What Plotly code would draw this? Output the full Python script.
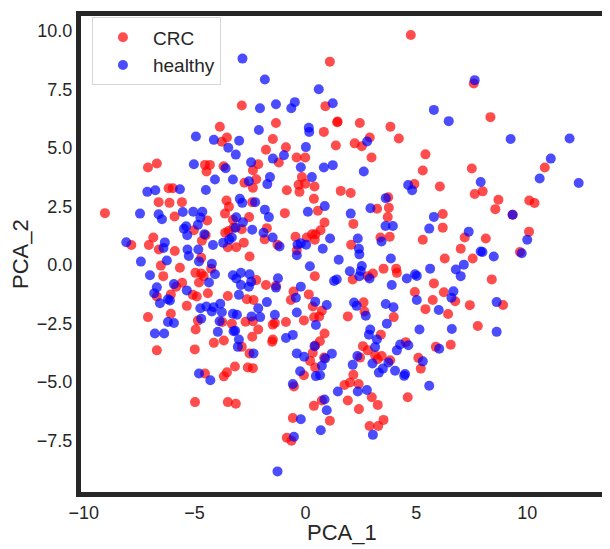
import plotly.graph_objects as go

# PCA projection, CRC samples
crc_x = [-2.87, -3.86, -3.77, -3.54, -7.10, -6.70, -4.53, -4.31, -4.46, -3.69, -2.37, -2.75, -6.17, -5.98,
         -2.37, -6.62, -6.13, -5.57, -3.56, -3.45, -2.40, -9.04, -5.90, -4.43, -3.63, -3.27, -2.54, -5.03,
         -3.24, -2.87, -3.62, -3.47, -4.50, -6.86, -7.85, -7.06, -6.61, -5.89, -3.50, -3.12, -2.78, -4.67,
         -4.70, -2.52, -6.52, -5.66, -4.25, -6.41, -4.96, -4.70, -4.59, -4.80, -6.70, -5.83, -5.56, -6.07,
         -5.08, -4.90, -4.40, -3.50, -2.64, -2.34, -5.35, -6.07, -7.10, -4.85, -3.75, -3.32, -2.70, -2.37,
         -4.95, -2.40, -4.13, -3.68, -2.87, -6.70, -4.99, -2.52, -3.18, -2.60, -2.37, -4.53, -3.68, -3.54,
         -4.98, -3.50, -3.14,
         4.75, 1.10, 0.90, -1.33, 0.83, 1.43, 1.45, 2.45, 3.83, 4.21, 2.90, 2.54, 2.22, 1.37, 2.98, -1.47,
         -1.78, -0.88, -1.20, -0.40, -0.01, 5.41, 5.29, -2.13, -2.22, -0.16, -0.31, -0.01, 0.41, -0.27,
         -0.84, 1.59, 2.04, 0.38, 4.91, -0.93, 0.56, 2.16, 3.23, 3.73, 3.76, 3.71, 3.80, 3.38, 0.86, 0.68,
         0.45, 0.30, 0.06, 0.42, -0.45, -1.74, -1.84, -1.26, 2.06, 5.29,
         -0.39, 0.42, 2.13, 2.81, 3.04, 3.52, 4.09, 4.12, 4.93, 5.41, 5.09, 5.20, -1.78, -2.22, -1.33,
         -2.13, -1.47, -1.38, -0.88, -1.50, -1.47, -0.54, -0.66, 0.15, -0.07, 0.33, 0.74, 0.62, 0.39, 0.86,
         0.65, 0.44, 0.33, 0.21, 0.84, 0.44, -0.07, -0.52, 1.91, 2.62, 2.66, 3.98, 3.40, 2.59, 2.81, 2.46,
         3.14, 3.44, 3.25, 3.82, 4.52, 2.16, 1.76, 2.01, 2.40, 2.99, 1.91, 3.26, 2.41, 4.61, 0.74, 0.38,
         1.10, -0.57, 3.52, 3.28, 2.89, -0.84, -0.63,
         7.59, 8.34, 10.79, 7.50, 6.06, 7.63, 7.99, 8.70, 8.56, 10.09, 10.33, 9.34, 6.19, 6.19, 7.18, 8.13,
         10.08, 7.00,
         9.67, 6.28, 7.54, 8.40, 5.79, 6.24, 6.75, 5.74, 6.43, 7.41, 8.91, 7.77, 5.88, 6.55]
crc_y = [6.81, 5.90, 5.26, 5.44, 4.16, 4.33, 4.27, 4.27, 3.99, 4.21, 4.04, 3.51, 3.27, 3.27,
         3.29, 2.68, 2.65, 2.68, 2.75, 2.48, 2.68, 2.21, 2.07, 1.90, 2.19, 1.93, 2.04, 1.48,
         1.59, 1.52, 1.37, 1.45, 1.27, 1.17, 0.85, 0.85, 0.66, 0.59, 0.75, 0.75, 0.95, 1.03,
         0.31, 0.36, -0.03, -0.12, -0.16, -0.48, -0.34, -0.37, -0.48, -0.75, -1.35, -0.93, -0.76, -1.26,
         -1.28, -1.35, -1.21, -1.33, -1.47, -1.50, -1.75, -2.09, -2.23, -2.38, -2.44, -2.51, -2.43, -2.41,
         -2.76, -3.07, -3.33, -3.23, -3.50, -3.65, -3.61, -3.78, -4.34, -4.38, -4.41, -4.64, -4.76, -4.59,
         -5.86, -5.86, -5.93,
         9.82, 8.68, 6.78, 6.06, 5.68, 6.09, 6.12, 6.06, 5.90, 5.40, 5.44, 5.07, 5.19, 5.10, 4.59, 5.38,
         4.92, 5.02, 4.37, 4.59, 4.59, 4.72, 4.03, 4.30, 3.66, 3.75, 3.42, 3.47, 3.35, 3.12,
         3.19, 3.16, 3.07, 2.82, 3.45, 2.21, 2.31, 1.75, 2.40, 2.89, 2.44, 2.04, 1.20, 1.17, 1.81, 1.48,
         1.31, 1.31, 1.17, 1.07, 1.20, 1.57, 1.09, 0.86, 0.86, 1.07,
         0.62, -0.48, -0.62, -0.48, -0.37, -0.16, -0.16, -0.34, -1.16, -1.89, -3.97, -4.43, -0.86, -0.65, -0.89,
         -2.76, -2.55, -2.48, -2.44, -3.28, -3.19, -1.14, -1.50, -1.26, -2.37, -1.78, -1.96, -2.20, -2.24, -2.93,
         -3.26, -3.44, -3.75, -4.10, -3.96, -4.38, -4.71, -5.19, -2.20, -1.60, -1.99, -2.23, -2.98, -3.47, -3.65, -3.96,
         -3.86, -3.89, -4.03, -4.07, -3.30, -4.69, -5.13, -5.02, -5.09, -5.65, -5.79, -5.98, -6.16, -5.65, -5.79, -6.02,
         -6.66, -6.54, -6.62, -6.88, -6.88, -7.38, -7.51,
         7.75, 6.31, 4.16, 4.12, 3.35, 3.03, 3.14, 2.78, 2.38, 2.75, 2.64, 2.14, 2.17, 1.59, 1.17, 1.13,
         1.42, 0.69,
         0.55, 0.27, 0.27, -0.62, -0.79, -1.17, -1.55, -1.50, -2.10, -1.72, -1.71, -2.61, -3.50, -3.41]

# PCA projection, healthy samples
healthy_x = [-2.84, -4.94, -4.13, -2.99, -3.48, -3.14, -5.03, -3.60, -2.45, -4.08, -3.27, -2.55, -7.13, -6.77,
             -5.66, -4.49, -2.96, -2.85, -7.46, -6.62, -6.47, -5.53, -5.06, -4.65, -4.74, -3.12, -2.82, -4.85,
             -5.38, -5.48, -3.15, -2.40, -3.32, -3.44, -4.56, -5.33, -8.08, -6.34, -6.40, -5.32, -4.83, -4.17,
             -3.71,
             -7.42, -6.25, -5.26, -4.80, -4.22, -7.01, -4.35, -4.08, -3.27, -2.91, -3.12, -2.52, -2.45, -2.91,
             -2.55, -6.70, -6.82, -6.56, -5.93, -6.11, -6.20, -5.35, -3.00, -4.74, -4.47, -4.22, -4.14, -3.84,
             -3.77, -6.20, -5.93, -4.70, -3.87, -3.27, -3.09, -2.43, -3.95, -3.17, -3.24, -6.79, -6.37, -3.00,
             -3.05, -2.34, -4.80, -4.29,
             -1.83, 0.60, -0.48, -0.64, -1.33, -2.05, 1.23, -2.10, 0.15, 0.17, 2.78, 0.02, -0.97, -1.47, -0.21,
             0.83, 1.23, 2.63, -1.60, -1.72, 0.29, 4.63, 4.81, -2.27, -1.83, -1.65, 0.11, 0.87, 2.04, 2.93,
             3.62, 3.61, 3.94, 3.43, -0.21, -0.36, 0.03, 1.11, 0.78, -1.89, -1.48, -1.17, 2.36, 2.41,
             2.43, -0.39, 1.50, 0.20, 1.29, 1.41, 2.00, 2.43, 2.54, 2.49, 2.89, 3.85, 3.89, 4.57, 4.94, 5.02,
             5.02, 5.14, 5.29, -1.33, -1.24, -1.74, -2.13, -2.04, -1.38, -0.88, -0.57, -0.43, -0.21, -0.39,
             0.44, 0.96, 0.47, 0.41, -0.39, -0.06, 0.89, 1.19, 0.74, -0.24, 0.47, 0.66, -0.57, 2.19, 2.31,
             2.72, 3.62, 3.97, 3.67, 2.92, 2.86, 3.22, 3.14, 2.34, 3.02, 2.13, 3.74, 3.49, 3.31, 4.04, 4.12,
             4.27, 4.64, 4.49, 4.45, 1.46, 2.36, 2.77, 0.86, 0.96, 0.69, -0.21, 3.04, -0.52, -1.26,
             7.63, 5.79, 6.46, 9.25, 11.91, 11.06, 10.56, 12.32, 7.90, 9.34, 5.79, 5.58, 7.36, 10.00, 7.90,
             7.98, 9.75, 8.49, 5.62, 6.78, 7.14, 7.00, 6.67, 6.58, 6.01, 8.62, 6.60, 8.62, 6.03, 5.58]
healthy_y = [8.81, 5.48, 5.34, 5.30, 5.00, 4.71, 4.30, 4.13, 4.38, 3.65, 3.65, 3.57, 3.12, 3.19,
             3.23, 3.20, 2.82, 2.65, 2.19, 2.16, 1.95, 2.26, 2.27, 2.27, 2.02, 2.03, 1.82, 1.71,
             1.65, 1.54, 1.59, 1.50, 1.17, 1.07, 1.31, 1.27, 0.97, 0.96, 0.72, 0.66, 0.66, 0.85,
             0.95,
             0.14, 0.19, 0.38, 0.15, 0.05, -0.44, -0.75, -0.40, -0.44, -0.34, -0.58, -0.40, -0.72, -0.86,
             -0.93, -0.96, -1.21, -1.64, -0.82, -1.52, -1.47, -1.09, -1.28, -1.85, -1.78, -1.99, -1.81, -1.66,
             -2.02, -2.44, -2.48, -2.30, -2.41, -2.09, -2.13, -2.20, -2.86, -2.81, -2.83, -2.93, -2.93, -3.19,
             -3.50, -3.78, -4.64, -4.93,
             7.92, 7.50, 6.95, 6.69, 6.86, 6.69, 6.90, 5.76, 5.86, 5.68, 5.27, 5.03, 4.68, 4.54, 4.17,
             4.16, 4.26, 3.99, 3.75, 3.45, 3.75, 3.41, 3.19, 2.68, 2.36, 2.04, 2.27, 2.51, 2.19, 2.42,
             2.85, 1.66, 1.66, 1.00, 0.92, 0.86, 0.86, 1.13, 0.69, 1.37, 1.17, 0.79, 1.13, 0.69,
             0.45, 0.41, 0.22, -0.06, -0.69, -0.62, -0.27, -0.48, -0.05, -0.26, -0.58, 0.27, -0.86, -0.58, -0.40, -0.47,
             -1.50, -2.76, -4.12, -0.97, -0.57, -1.59, -1.85, -2.23, -2.13, -3.12, -2.99, -1.40, -0.93, -2.03,
             -1.57, -1.71, -2.57, -3.47, -3.78, -3.92, -4.00, -3.79, -4.31, -4.54, -4.75, -4.71, -5.09, -1.61, -1.75,
             -2.17, -1.67, -1.81, -2.51, -2.76, -2.98, -3.19, -3.51, -3.89, -4.21, -4.27, -4.17, -4.43, -4.60, -4.52, -3.65,
             -3.40, -3.43, -4.66, -4.74, -5.41, -5.41, -5.34, -5.75, -6.21, -7.06, -6.59, -7.26, -7.34, -8.82,
             7.89, 6.62, 6.14, 5.38, 5.40, 4.54, 3.69, 3.50, 3.54, 2.14, 2.05, 1.55, 1.42, 1.07, 0.57,
             0.55, 0.50, 0.36, -0.16, -0.20, 0.01, -0.48, -1.13, -1.40, -1.93, -1.59, -2.74, -2.86, -3.58, -5.16]

ink = "#262626"
font = "Liberation Sans, Arial, sans-serif"

fig = go.Figure()
fig.add_trace(go.Scatter(x=crc_x, y=crc_y, mode="markers", name="CRC",
                         marker=dict(color="red", size=10, opacity=0.7, line=dict(width=0))))
fig.add_trace(go.Scatter(x=healthy_x, y=healthy_y, mode="markers", name="healthy",
                         marker=dict(color="blue", size=10, opacity=0.7, line=dict(width=0))))

axis = dict(showline=True, linewidth=5, linecolor=ink, mirror=True, showgrid=False, zeroline=False,
            ticks="", tickfont=dict(size=18, color=ink, family=font))
fig.update_xaxes(axis, range=[-10.12, 13.37], tickvals=[-10, -5, 0, 5, 10])
fig.update_yaxes(axis, range=[-9.70, 10.63], dtick=2.5, tick0=0, tickformat=".1f")

# axis titles placed in pixels below / left of the frame
title_font = dict(size=22, color=ink, family=font)
fig.add_annotation(text="PCA_1", xref="paper", yref="paper", x=0.5, y=0,
                   xanchor="center", yanchor="middle", yshift=-40, showarrow=False, font=title_font)
fig.add_annotation(text="PCA_2", xref="paper", yref="paper", x=0, y=0.5, textangle=-90,
                   xanchor="center", yanchor="middle", xshift=-61, showarrow=False, font=title_font)

# the page body adds an 8px offset, so the figure is 8px smaller than the window
fig.update_layout(
    width=602, height=541,
    margin=dict(l=73, r=8, t=3, b=57),
    paper_bgcolor="white", plot_bgcolor="white",
    font=dict(family=font, color=ink),
    legend=dict(x=0.021, y=0.997, xanchor="left", yanchor="top",
                bgcolor="white", bordercolor="#d6d6d6", borderwidth=1,
                font=dict(size=19, color=ink, family=font), itemwidth=50),
)

fig.write_html("out.html")
